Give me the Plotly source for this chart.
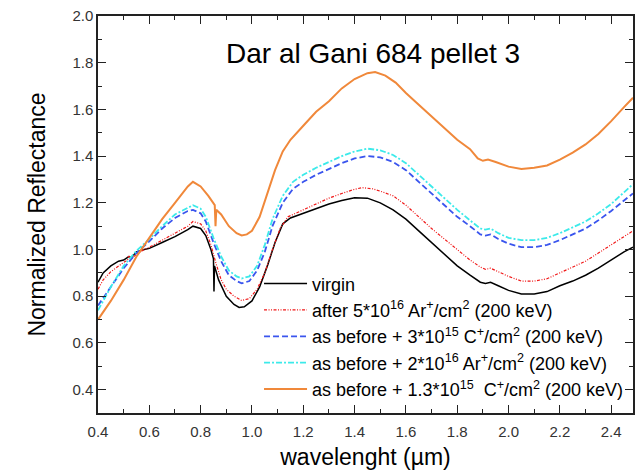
import plotly.graph_objects as go

# ---- data ----
w_virgin = [0.40, 0.42, 0.45, 0.48, 0.50, 0.52, 0.53, 0.55, 0.58, 0.60, 0.65, 0.70, 0.75, 0.77, 0.80,
            0.82, 0.84, 0.850, 0.852, 0.854, 0.87, 0.90, 0.93, 0.95, 0.97, 1.00, 1.03, 1.06, 1.09, 1.12,
            1.15, 1.20, 1.25, 1.30, 1.35, 1.40, 1.45, 1.50, 1.55, 1.60, 1.65, 1.70, 1.75, 1.80, 1.85,
            1.89, 1.91, 1.93, 1.96, 2.00, 2.05, 2.10, 2.15, 2.20, 2.25, 2.30, 2.35, 2.40, 2.45, 2.485]
r_virgin = [0.86, 0.90, 0.93, 0.95, 0.955, 0.97, 0.965, 0.99, 1.00, 1.005, 1.03, 1.055, 1.085, 1.10, 1.09,
            1.06, 1.00, 0.96, 0.82, 0.93, 0.87, 0.80, 0.765, 0.752, 0.755, 0.78, 0.84, 0.93, 1.03, 1.11,
            1.135, 1.155, 1.175, 1.195, 1.21, 1.222, 1.22, 1.20, 1.17, 1.13, 1.08, 1.03, 0.98, 0.93, 0.89,
            0.86, 0.855, 0.86, 0.845, 0.825, 0.81, 0.81, 0.82, 0.845, 0.865, 0.89, 0.92, 0.955, 0.99, 1.01]

w_ar1 = [0.40, 0.42, 0.45, 0.48, 0.50, 0.515, 0.52, 0.525, 0.55, 0.58, 0.60, 0.65, 0.70, 0.75, 0.77, 0.80,
         0.82, 0.84, 0.86, 0.88, 0.90, 0.93, 0.96, 0.99, 1.02, 1.05, 1.08, 1.11, 1.14, 1.20, 1.25, 1.30,
         1.35, 1.40, 1.43, 1.47, 1.50, 1.55, 1.60, 1.65, 1.70, 1.75, 1.80, 1.85, 1.89, 1.91, 1.93, 1.96,
         2.00, 2.05, 2.10, 2.15, 2.20, 2.25, 2.30, 2.35, 2.40, 2.45, 2.485]
r_ar1 = [0.83, 0.87, 0.905, 0.93, 0.945, 0.955, 0.975, 0.955, 0.98, 1.00, 1.01, 1.04, 1.07, 1.10, 1.12, 1.11,
         1.08, 1.02, 0.94, 0.87, 0.83, 0.80, 0.782, 0.79, 0.83, 0.90, 1.00, 1.09, 1.14, 1.17, 1.195, 1.22,
         1.24, 1.258, 1.265, 1.26, 1.25, 1.23, 1.19, 1.14, 1.09, 1.045, 1.00, 0.955, 0.925, 0.915, 0.92, 0.905,
         0.885, 0.865, 0.865, 0.875, 0.90, 0.925, 0.95, 0.985, 1.02, 1.055, 1.08]

w_common = [0.40, 0.45, 0.50, 0.55, 0.60, 0.65, 0.70, 0.75, 0.77, 0.80, 0.82, 0.85, 0.88, 0.91, 0.94, 0.96,
            0.99, 1.02, 1.05, 1.08, 1.12, 1.16, 1.20, 1.25, 1.30, 1.35, 1.40, 1.45, 1.50, 1.55, 1.60, 1.65,
            1.70, 1.75, 1.80, 1.85, 1.89, 1.91, 1.93, 1.96, 2.00, 2.05, 2.10, 2.15, 2.20, 2.25, 2.30, 2.35,
            2.40, 2.45, 2.485]
r_c1 = [0.76, 0.84, 0.92, 0.985, 1.035, 1.09, 1.135, 1.165, 1.17, 1.155, 1.12, 1.03, 0.95, 0.89, 0.865, 0.855,
        0.865, 0.91, 0.99, 1.10, 1.20, 1.26, 1.29, 1.32, 1.345, 1.37, 1.39, 1.40, 1.395, 1.375, 1.34, 1.29,
        1.24, 1.19, 1.14, 1.10, 1.065, 1.06, 1.065, 1.045, 1.025, 1.01, 1.01, 1.02, 1.04, 1.065, 1.09, 1.125,
        1.165, 1.21, 1.24]
r_ar2 = [0.74, 0.84, 0.93, 0.995, 1.045, 1.10, 1.15, 1.18, 1.19, 1.175, 1.14, 1.05, 0.97, 0.91, 0.885, 0.876,
         0.885, 0.93, 1.02, 1.13, 1.23, 1.29, 1.32, 1.35, 1.375, 1.40, 1.42, 1.432, 1.425, 1.405, 1.37, 1.32,
         1.27, 1.22, 1.17, 1.125, 1.09, 1.085, 1.09, 1.07, 1.05, 1.04, 1.04, 1.05, 1.07, 1.095, 1.12, 1.155,
         1.195, 1.245, 1.28]

w_c2 = [0.40, 0.45, 0.50, 0.55, 0.60, 0.65, 0.70, 0.75, 0.77, 0.80, 0.83, 0.855, 0.858, 0.861, 0.88, 0.91,
        0.94, 0.96, 0.98, 1.00, 1.03, 1.06, 1.09, 1.12, 1.15, 1.20, 1.25, 1.30, 1.35, 1.40, 1.45, 1.48, 1.52,
        1.56, 1.60, 1.65, 1.70, 1.75, 1.80, 1.85, 1.88, 1.90, 1.92, 1.95, 2.00, 2.05, 2.10, 2.15, 2.20, 2.25,
        2.30, 2.35, 2.40, 2.45, 2.485]
r_c2 = [0.70, 0.78, 0.87, 0.97, 1.05, 1.13, 1.20, 1.27, 1.29, 1.27, 1.23, 1.19, 1.10, 1.17, 1.15, 1.10,
        1.07, 1.06, 1.065, 1.08, 1.14, 1.24, 1.34, 1.42, 1.47, 1.53, 1.59, 1.635, 1.69, 1.73, 1.755, 1.76, 1.745,
        1.715, 1.67, 1.62, 1.57, 1.52, 1.47, 1.43, 1.39, 1.38, 1.385, 1.375, 1.355, 1.345, 1.35, 1.36, 1.385, 1.415,
        1.45, 1.495, 1.55, 1.61, 1.65]

names = ["virgin",
         "after 5*10<sup>16</sup> Ar<sup>+</sup>/cm<sup>2</sup> (200 keV)",
         "as before + 3*10<sup>15</sup> C<sup>+</sup>/cm<sup>2</sup> (200 keV)",
         "as before + 2*10<sup>16</sup> Ar<sup>+</sup>/cm<sup>2</sup> (200 keV)",
         "as before + 1.3*10<sup>15</sup>\u00a0 C<sup>+</sup>/cm<sup>2</sup> (200 keV)"]

x_ticks = [0.4, 0.6, 0.8, 1.0, 1.2, 1.4, 1.6, 1.8, 2.0, 2.2, 2.4]
y_ticks = [0.4, 0.6, 0.8, 1.0, 1.2, 1.4, 1.6, 1.8, 2.0]

FONT = "Liberation Sans, Arial, sans-serif"

fig = go.Figure()
fig.add_trace(go.Scatter(x=w_virgin, y=r_virgin, mode="lines", name=names[0],
                         line=dict(color="black", width=1.5)))
fig.add_trace(go.Scatter(x=w_ar1, y=r_ar1, mode="lines", name=names[1],
                         line=dict(color="#f01818", width=1.2, dash="3px,1.5px,1px,1.5px,1px,1.5px")))
fig.add_trace(go.Scatter(x=w_common, y=r_c1, mode="lines", name=names[2],
                         line=dict(color="#3a55ee", width=1.8, dash="6px,3px")))
fig.add_trace(go.Scatter(x=w_common, y=r_ar2, mode="lines", name=names[3],
                         line=dict(color="#3ceaea", width=1.8, dash="6px,2px,2px,2px")))
fig.add_trace(go.Scatter(x=w_c2, y=r_c2, mode="lines", name=names[4],
                         line=dict(color="#f0883a", width=2)))

axis_common = dict(showline=True, linecolor="#222", linewidth=1.5, mirror="allticks",
                   ticks="inside", ticklen=8, tickwidth=1.2, tickcolor="#222",
                   showgrid=False, zeroline=False,
                   tickfont=dict(family=FONT, size=15, color="#333"))

fig.update_layout(
    width=635, height=474,
    margin=dict(l=98, r=0, t=16, b=61),
    paper_bgcolor="white", plot_bgcolor="white",
    font=dict(family=FONT, color="black"),
    showlegend=True,
    legend=dict(x=0.301, y=0.372, xanchor="left", yanchor="top",
                bgcolor="rgba(0,0,0,0)", font=dict(family=FONT, size=18, color="black"),
                itemwidth=43, tracegroupgap=0),
    xaxis=dict(range=[0.4, 2.485], tickvals=x_ticks, ticktext=[f"{v:.1f}" for v in x_ticks],
               minor=dict(ticks="inside", ticklen=4, tickcolor="#222", dtick=0.1, tick0=0.4),
               ticklabelstandoff=4,
               title=dict(text="wavelenght (\u00b5m)", font=dict(family=FONT, size=23), standoff=10),
               **axis_common),
    yaxis=dict(range=[0.3, 2.0], tickvals=y_ticks, ticktext=[f"{v:.1f}" for v in y_ticks],
               minor=dict(ticks="inside", ticklen=4, tickcolor="#222", dtick=0.1, tick0=0.3),
               title=dict(text="Normalized Reflectance", font=dict(family=FONT, size=23), standoff=20),
               **axis_common),
    annotations=[dict(text="Dar al Gani 684 pellet 3",
                      x=(374 - 98) / 537, y=(413 - 53) / 397, xref="paper", yref="paper",
                      xanchor="center", yanchor="middle",
                      showarrow=False, font=dict(family=FONT, size=28, color="black"))],
)

fig.write_html("out.html")
